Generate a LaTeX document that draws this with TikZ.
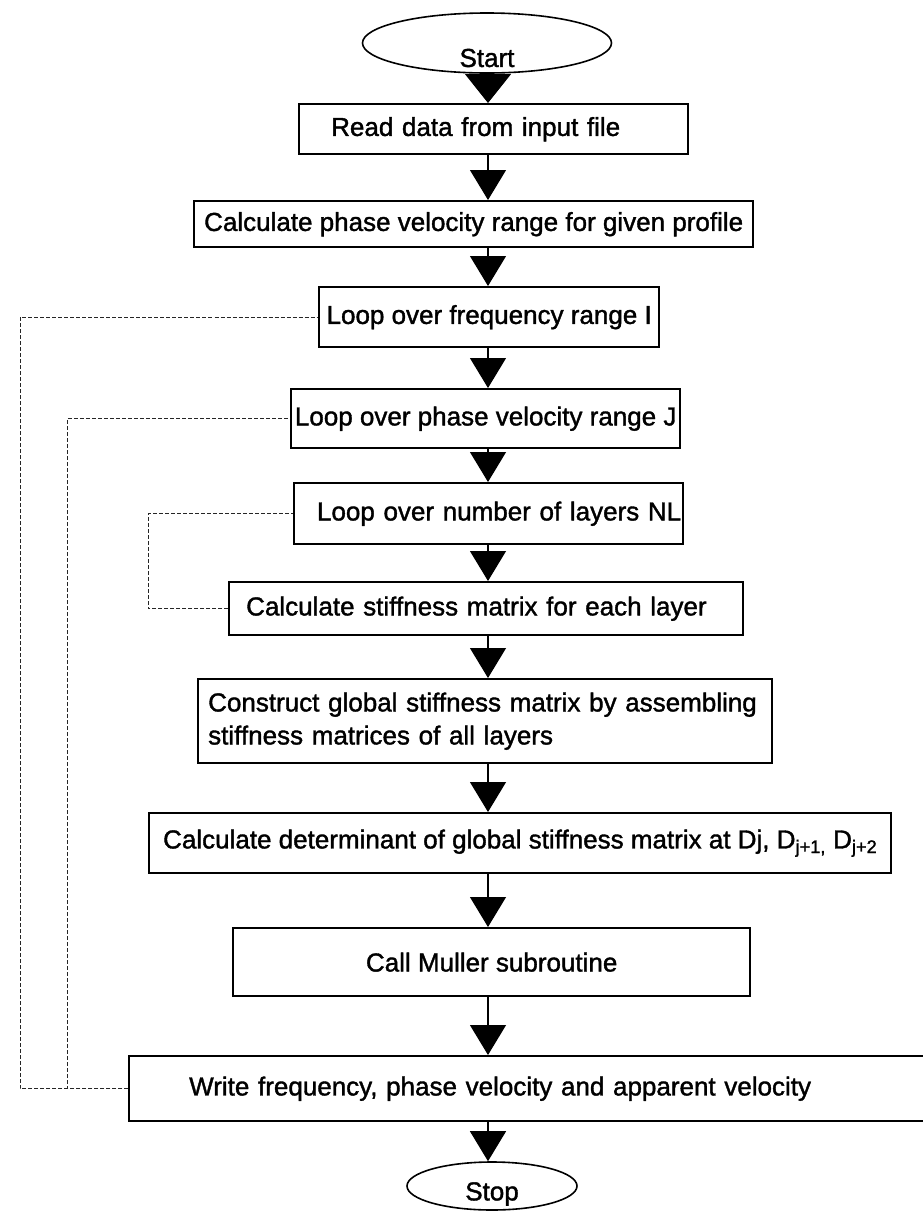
\documentclass[tikz,border=0pt]{standalone}
\usepackage{fontspec}
\setmainfont{Liberation Sans}[BoldFont={Liberation Sans}, BoldFeatures={FakeBold=1.4}]
\usetikzlibrary{shapes,arrows,arrows.meta}
\newcommand{\flowfont}{\fontsize{26}{33}\selectfont\bfseries}
\tikzstyle{block} = [rectangle, draw, line width=2.4pt, anchor=north west,
    inner xsep=5pt, inner ysep=2pt, text centered, font=\flowfont]
\tikzstyle{terminal} = [ellipse, draw, line width=1.6pt, inner sep=0pt]
\tikzstyle{line} = [draw, line width=1.2pt, -{Triangle[width=36pt,length=30pt]}]
\tikzstyle{loopback} = [draw, line width=0.9pt, black!85, dash pattern=on 4pt off 2pt]

\begin{document}
\begin{tikzpicture}[x=1pt, y=-1pt]
		\path[fill=white, use as bounding box] (0,0) rectangle (923,1211);
		\clip (0,0) rectangle (923,1211);

		% main column
		\node [terminal, minimum width=249pt, minimum height=60pt,
		  label={[font=\flowfont, yshift=-15pt]center:Start}] (start) at (487,43) {};
		\node [block, minimum width=389pt, minimum height=50pt, inner xsep=32pt,
		  text width=325pt, align=left] (read) at (298,103) {Read data from input file};
		\node [block, minimum width=559pt, minimum height=46pt] (phase) at (193,200)
		  {Calculate phase velocity range for given profile};
		\node [block, minimum width=340pt, minimum height=60pt] (loopI) at (318,286)
		  {Loop over frequency range I};
		\node [block, minimum width=389pt, minimum height=59pt, inner xsep=2pt] (loopJ) at (290,388)
		  {Loop over phase velocity range J};
		\node [block, minimum width=389pt, minimum height=61pt, inner xsep=2pt,
		  text width=385pt, align=right] (loopNL) at (293,482) {Loop over number of layers NL};
		\node [block, minimum width=514pt, minimum height=53pt, inner xsep=17pt,
		  text width=480pt, align=left] (stiff) at (228,581) {Calculate stiffness matrix for each layer};
		\node [block, minimum width=574pt, minimum height=84pt, inner xsep=10pt,
		  text width=554pt, align=left] (assemble) at (197,678)
		  {Construct global stiffness matrix by assembling\\stiffness matrices of all layers};
		\node [block, minimum width=742pt, minimum height=60pt, inner xsep=3pt] (det) at (148,812)
		  {Calculate determinant of global stiffness matrix at Dj, D\textsubscript{j+1,} D\textsubscript{j+2}};
		\node [block, minimum width=517pt, minimum height=68pt] (muller) at (232,927)
		  {Call Muller subroutine};
		\node [block, minimum width=802pt, minimum height=65pt, inner xsep=60pt,
		  text width=682pt, align=left] (write) at (128,1055)
		  {Write frequency, phase velocity and apparent velocity};
		\node [terminal, minimum width=170pt, minimum height=48pt,
		  label={[font=\flowfont, yshift=-8pt]center:Stop}] (stop) at (492,1186) {};

		\coordinate (spine) at (488,0);
		\coordinate (outer) at (20,0);
		\coordinate (inner) at (67,0);
		\coordinate (nlside) at (148,0);

		% downward flow
		\path [line, -{Triangle[width=46pt,length=29pt]}] (start.south -| spine) -- (read.north -| spine);
		\path [line] (read.south -| spine) -- (phase.north -| spine);
		\path [line] (phase.south -| spine) -- (loopI.north -| spine);
		\path [line] (loopI.south -| spine) -- (loopJ.north -| spine);
		\path [line] (loopJ.south -| spine) -- (loopNL.north -| spine);
		\path [line] (loopNL.south -| spine) -- (stiff.north -| spine);
		\path [line] (stiff.south -| spine) -- (assemble.north -| spine);
		\path [line] (assemble.south -| spine) -- (det.north -| spine);
		\path [line] (det.south -| spine) -- (muller.north -| spine);
		\path [line] (muller.south -| spine) -- (write.north -| spine);
		\path [line] (write.south -| spine) -- (stop.north -| spine);

		% loop returns
		\path [loopback] (write.west) -| (outer |- loopI.west) -- (loopI.west);
		\path [loopback] (write.west) -| (inner |- loopJ.west) -- (loopJ.west);
		\path [loopback] (stiff.west) -| (nlside |- loopNL.west) -- (loopNL.west);
	\end{tikzpicture}
\end{document}
